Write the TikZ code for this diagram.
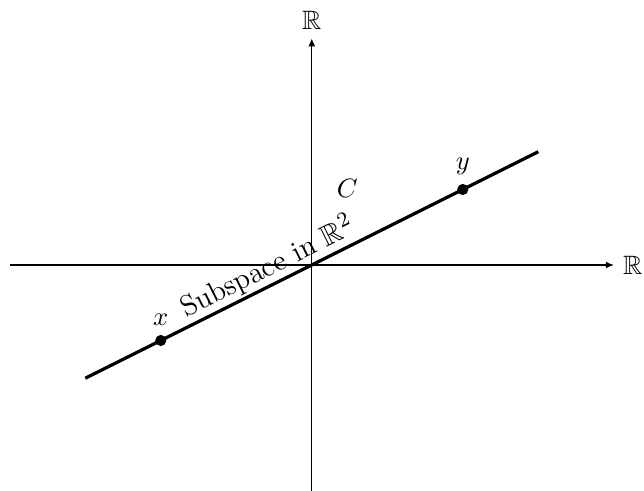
\documentclass[tikz,border=0pt]{standalone}
\usepackage{amsmath,amssymb}
\usetikzlibrary{arrows.meta,positioning}
\tikzset{axis/.style={-{Latex[length=3pt,width=2.6pt]},draw=black},
 sub/.style={draw=black,very thick},
 pt/.style={circle,fill=black,inner sep=0pt,minimum size=4.2pt},
 lab/.style={inner sep=3pt}}

\begin{document}
\begin{tikzpicture}
\useasboundingbox (-4.13,-2.99) rectangle (4.40,3.51);
\coordinate (xl) at (-4,0);
\coordinate (xr) at (4,0);
\coordinate (yb) at (0,-3);
\coordinate (yt) at (0,3);
\coordinate (sl) at (-3,-1.5);
\coordinate (sr) at (3,1.5);
\draw[axis] (xl)--(xr);
\draw[axis] (yb)--(yt);
\node[right] (rx) at (xr) {$\mathbb{R}$};
\node[above] (ry) at (yt) {$\mathbb{R}$};
\draw[sub] (sl)--node[sloped,pos=0.42,anchor=south,inner sep=0.6pt,font=\fontsize{11}{13}\selectfont]{Subspace in $\mathbb{R}^2$}(sr);
\node[pt] (x) at (-2,-1) {};
\node[pt] (y) at (2,1) {};
\node[lab,above] (xn) at (x.north) {$x$};
\node[lab,above] (yn) at (y.north) {$y$};
\node (c) at (0.47,1.02) {$C$};
\end{tikzpicture}
\end{document}
